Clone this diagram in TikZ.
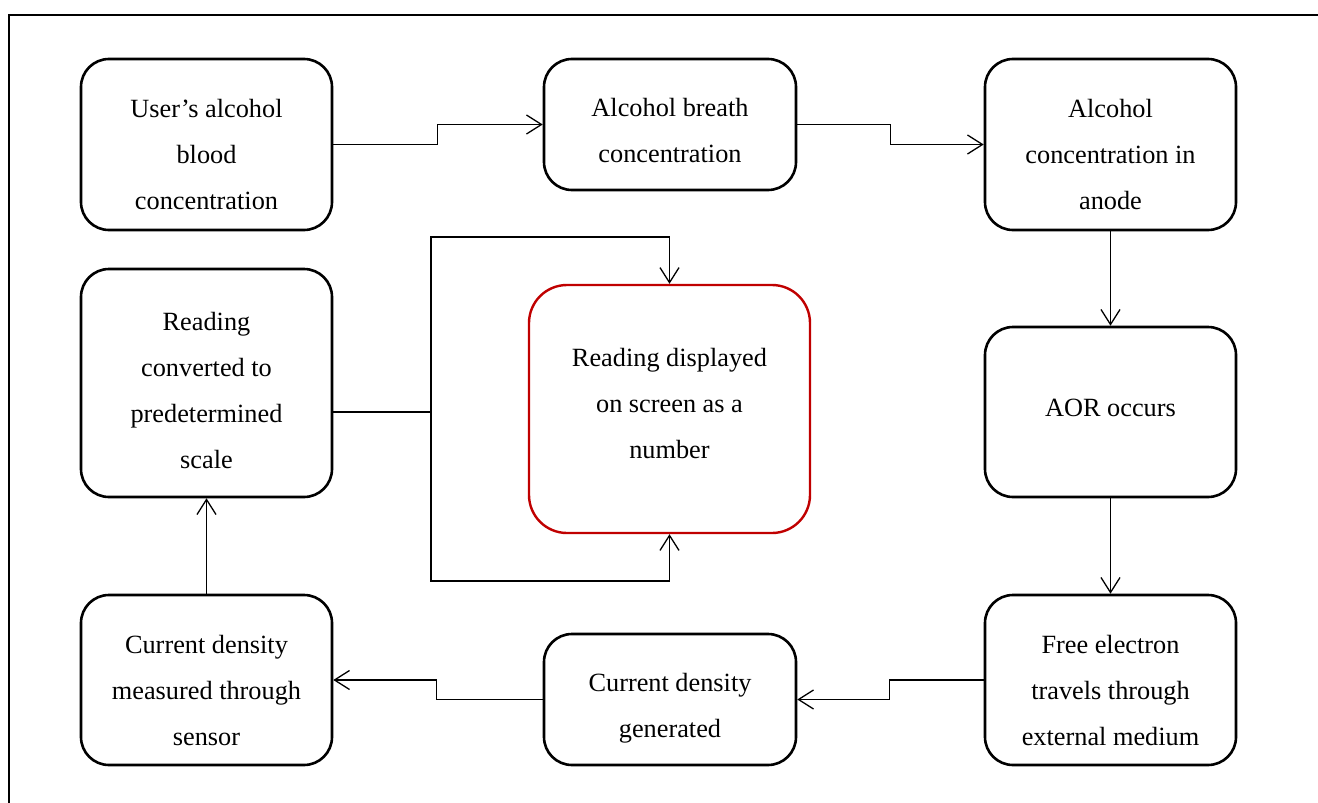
\documentclass[tikz,border=0pt]{standalone}
\usepackage{fontspec}
\setmainfont{Liberation Serif}
\usetikzlibrary{arrows.meta,calc}
\definecolor{boxred}{HTML}{C00000}
\newcommand\boxtext[2]{\raisebox{#1}[\height][\depth]{\begin{tabular}{@{}c@{}}#2\end{tabular}}}
\begin{document}
\begin{tikzpicture}[x=1pt,y=-1pt,
  box/.style={draw=black,line width=2.6pt,rounded corners=28pt,
    inner sep=0pt,font=\fontsize{26.3}{46}\selectfont},
  redbox/.style={box,draw=boxred,line width=2.4pt,rounded corners=38pt},
  arr/.style={line width=1.3pt,-{Straight Barb[length=15pt,width=19pt,line width=1.3pt]}},
  conn/.style={line width=1.3pt}]
\useasboundingbox (0,0) rectangle (1318,803);
\draw[line width=2.4pt] (1330,15) -- (9,15) -- (9,815);
\node[box,minimum width=251pt,minimum height=171pt] (b1) at (206.5,144.5) {\boxtext{-10pt}{User’s alcohol\\blood\\concentration}};
\node[box,minimum width=252pt,minimum height=131pt] (b2) at (670,124.5) {\boxtext{-6pt}{Alcohol breath\\concentration}};
\node[box,minimum width=251pt,minimum height=171pt] (b3) at (1110.5,144.5) {\boxtext{-10pt}{Alcohol\\concentration in\\anode}};
\node[box,minimum width=251pt,minimum height=228pt] (b4) at (206.5,383) {\boxtext{-7pt}{Reading\\converted to\\predetermined\\scale}};
\node[redbox,minimum width=281pt,minimum height=248pt] (b5) at (669.5,409) {\boxtext{5.5pt}{Reading displayed\\on screen as a\\number}};
\node[box,minimum width=251pt,minimum height=170pt] (b6) at (1110.5,412) {\boxtext{5pt}{AOR occurs}};
\node[box,minimum width=251pt,minimum height=170pt] (b7) at (206.5,680) {\boxtext{-10pt}{Current density\\measured through\\sensor}};
\node[box,minimum width=252pt,minimum height=131pt] (b8) at (670,699.5) {\boxtext{-6pt}{Current density\\generated}};
\node[box,minimum width=251pt,minimum height=170pt] (b9) at (1110.5,680) {\boxtext{-10pt}{Free electron\\travels through\\external medium}};
\draw[arr] (b1.east) -- ++(104,0) |- (b2.west);
\draw[arr] (b2.east) -- ++(93,0) |- (b3.west);
\draw[arr] (b3.south) -- (b6.north);
\draw[arr] (b6.south) -- (b9.north);
\draw[arr] (b9.west) -- ++(-94,0) |- (b8.east);
\draw[arr] (b8.west) -- ++(-106,0) |- (b7.east);
\draw[arr] (b7.north) -- (b4.south);
\coordinate (j) at (431,412);
\coordinate (jt) at (431,237);
\coordinate (jb) at (431,581);
\draw[conn] (b4.east |- j) -- (j);
\draw[arr] (j) -- (jt) -| (b5.north);
\draw[arr] (j) -- (jb) -| (b5.south);
\end{tikzpicture}
\end{document}
